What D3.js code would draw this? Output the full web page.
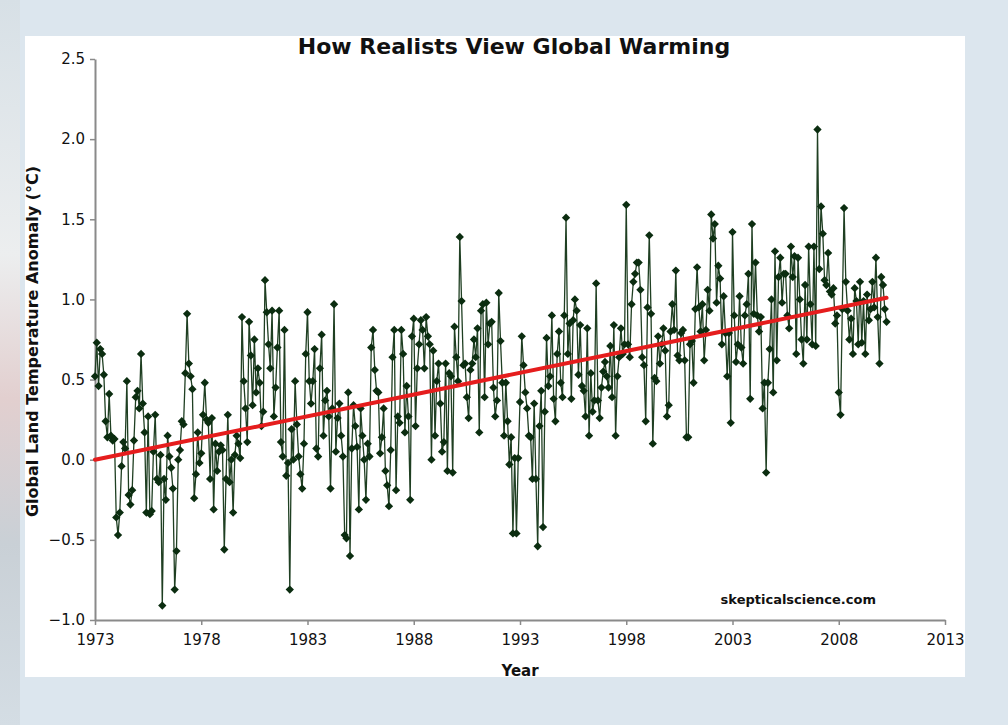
<!DOCTYPE html>
<html>
<head>
<meta charset="utf-8">
<script src="https://cdn.jsdelivr.net/npm/d3@7"></script>
<style>
  html, body { margin: 0; padding: 0; background: #dce6ee; }
  #chart { width: 1008px; height: 725px; }
  text { font-family: "DejaVu Sans", Verdana, sans-serif; fill: #111; }
</style>
</head>
<body>
<div id="chart"></div>
<script>
// monthly land temperature anomaly (°C), Jan 1973 onwards
const startYear = 1973;
const anomalyByYear = [
  [0.52, 0.73, 0.46, 0.69, 0.66, 0.53, 0.24, 0.14, 0.41, 0.15, 0.12, 0.13],
  [-0.36, -0.47, -0.33, -0.04, 0.11, 0.07, 0.49, -0.22, -0.28, -0.19, 0.12, 0.39],
  [0.43, 0.32, 0.66, 0.35, 0.17, -0.33, 0.27, -0.34, -0.32, 0.05, 0.28, -0.12],
  [-0.14, 0.03, -0.91, -0.12, -0.25, 0.15, 0.02, -0.05, -0.18, -0.81, -0.57, 0.0],
  [0.06, 0.24, 0.22, 0.54, 0.91, 0.60, 0.52, 0.44, -0.24, -0.09, 0.17, -0.02],
  [0.04, 0.28, 0.48, 0.25, 0.23, -0.12, 0.26, -0.31, 0.10, -0.07, 0.05, 0.09],
  [0.06, -0.56, -0.12, 0.28, -0.14, 0.0, -0.33, 0.03, 0.15, 0.10, 0.01, 0.89],
  [0.49, 0.32, 0.11, 0.86, 0.65, 0.34, 0.75, 0.42, 0.57, 0.48, 0.21, 0.30],
  [1.12, 0.92, 0.72, 0.57, 0.93, 0.27, 0.45, 0.70, 0.93, 0.11, 0.02, 0.81],
  [-0.10, -0.02, -0.81, 0.19, 0.0, 0.49, 0.22, 0.02, -0.09, -0.18, 0.10, 0.66],
  [0.92, 0.49, 0.35, 0.49, 0.69, 0.07, 0.02, 0.57, 0.78, 0.15, 0.37, 0.43],
  [0.27, -0.18, 0.32, 0.97, 0.05, 0.26, 0.35, 0.15, 0.02, -0.47, -0.49, 0.42],
  [-0.60, 0.07, 0.34, 0.21, 0.08, -0.31, 0.32, 0.15, 0.0, -0.25, 0.10, 0.02],
  [0.70, 0.81, 0.56, 0.43, 0.42, 0.04, 0.14, 0.32, -0.07, -0.16, -0.29, 0.06],
  [0.64, 0.81, -0.19, 0.27, 0.23, 0.81, 0.66, 0.17, 0.46, 0.27, -0.25, 0.77],
  [0.88, 0.21, 0.57, 0.72, 0.87, 0.81, 0.57, 0.89, 0.77, 0.72, 0.0, 0.68],
  [0.15, 0.49, 0.60, 0.35, 0.05, 0.11, 0.60, -0.07, 0.54, 0.52, -0.08, 0.83],
  [0.64, 0.49, 1.39, 0.99, 0.59, 0.60, 0.39, 0.26, 0.56, 0.60, 0.75, 0.64],
  [0.82, 0.17, 0.93, 0.97, 0.39, 0.98, 0.72, 0.85, 0.86, 0.45, 0.27, 0.37],
  [1.04, 0.74, 0.48, 0.15, 0.48, 0.24, -0.03, 0.14, -0.46, 0.01, -0.46, 0.01],
  [0.36, 0.77, 0.59, 0.42, 0.32, 0.15, 0.14, -0.12, 0.35, -0.12, -0.54, 0.21],
  [0.43, -0.42, 0.30, 0.76, 0.46, 0.52, 0.90, 0.38, 0.24, 0.66, 0.80, 0.48],
  [0.39, 0.90, 1.51, 0.66, 0.85, 0.38, 0.87, 1.00, 0.93, 0.53, 0.84, 0.46],
  [0.43, 0.27, 0.82, 0.15, 0.54, 0.30, 0.37, 1.10, 0.37, 0.26, 0.45, 0.55],
  [0.61, 0.52, 0.45, 0.71, 0.39, 0.84, 0.15, 0.52, 0.64, 0.82, 0.66, 0.72],
  [1.59, 0.72, 0.64, 0.97, 1.11, 1.16, 1.23, 1.23, 1.06, 0.64, 0.59, 0.24],
  [0.95, 1.40, 0.91, 0.10, 0.51, 0.49, 0.77, 0.60, 0.72, 0.82, 0.68, 0.27],
  [0.34, 0.80, 0.97, 0.81, 1.18, 0.65, 0.62, 0.79, 0.81, 0.62, 0.14, 0.14],
  [0.72, 0.74, 0.48, 0.94, 1.20, 0.95, 0.80, 0.97, 0.62, 0.81, 1.06, 0.93],
  [1.53, 1.38, 1.47, 0.98, 1.21, 1.13, 0.72, 1.02, 0.79, 0.52, 0.79, 0.23],
  [1.42, 0.90, 0.61, 0.72, 1.02, 0.70, 0.60, 0.90, 0.97, 1.16, 0.38, 1.47],
  [0.91, 1.23, 0.90, 0.80, 0.89, 0.32, 0.48, -0.08, 0.48, 0.69, 1.00, 0.42],
  [1.30, 0.62, 1.14, 1.26, 0.98, 1.16, 1.16, 0.90, 0.82, 1.33, 1.14, 1.27],
  [0.66, 1.26, 1.00, 0.75, 0.60, 1.09, 0.75, 1.33, 0.97, 0.72, 1.33, 0.71],
  [2.06, 1.19, 1.58, 1.41, 1.12, 1.09, 1.29, 1.05, 1.03, 1.07, 0.85, 0.90],
  [0.42, 0.28, 0.94, 1.57, 1.11, 0.93, 0.75, 0.88, 0.66, 1.07, 0.99, 0.72],
  [1.11, 0.73, 0.99, 0.66, 1.03, 0.87, 0.94, 1.11, 0.95, 1.26, 0.89, 0.60],
  [1.14, 1.09, 0.94, 0.86],
];

// linear trend as drawn (start and end of the red line)
const trendYears = [1973, 2010.25];
const trendValues = [0.0, 1.01];

const xTicks = [1973, 1978, 1983, 1988, 1993, 1998, 2003, 2008, 2013];
const yTicks = [-1.0, -0.5, 0.0, 0.5, 1.0, 1.5, 2.0, 2.5];

const title = "How Realists View Global Warming";
const xLabel = "Year";
const yLabel = "Global Land Temperature Anomaly (°C)";
const credit = "skepticalscience.com";

const data = anomalyByYear.flatMap((row, i) =>
  row.map((value, m) => ({ year: startYear + i + m / 12, value }))
);

const width = 1008;
const height = 725;
const margin = { top: 59, right: 63, bottom: 105, left: 95 };

const svg = d3
  .select("#chart")
  .append("svg")
  .attr("width", width)
  .attr("height", height);

// photo edge on the far left of the slide
const grad = svg
  .append("defs")
  .append("linearGradient")
  .attr("id", "edge")
  .attr("x1", 0)
  .attr("x2", 0)
  .attr("y1", 0)
  .attr("y2", 1);
grad.append("stop").attr("offset", "0%").attr("stop-color", "#d7e0e6");
grad.append("stop").attr("offset", "35%").attr("stop-color", "#eceeef");
grad.append("stop").attr("offset", "55%").attr("stop-color", "#e2cfcf");
grad.append("stop").attr("offset", "75%").attr("stop-color", "#c9d0d6");
grad.append("stop").attr("offset", "100%").attr("stop-color", "#d4dde4");
svg.append("rect").attr("x", 0).attr("y", 0).attr("width", 20).attr("height", height).attr("fill", "url(#edge)");

// white chart panel
svg
  .append("rect")
  .attr("x", 25)
  .attr("y", 36)
  .attr("width", 940)
  .attr("height", 641)
  .attr("fill", "#fff");

const x = d3
  .scaleLinear()
  .domain([1973, 2013])
  .range([margin.left, width - margin.right]);

const y = d3
  .scaleLinear()
  .domain([-1.0, 2.5])
  .range([height - margin.bottom, margin.top]);

// axes
const xAxis = svg
  .append("g")
  .attr("transform", `translate(0,${y(-1.0)})`)
  .call(
    d3.axisBottom(x).tickValues(xTicks).tickFormat(d3.format("d")).tickSize(5).tickSizeOuter(0)
  );

const yAxis = svg
  .append("g")
  .attr("transform", `translate(${x(1973)},0)`)
  .call(
    d3.axisLeft(y).tickValues(yTicks).tickFormat(d3.format(".1f")).tickSize(5).tickSizeOuter(0)
  );

[xAxis, yAxis].forEach((g) => {
  g.select(".domain").attr("stroke", "#8a8a8a").attr("stroke-width", 2);
  g.selectAll(".tick line").attr("stroke", "#8a8a8a").attr("stroke-width", 1.5);
  g.selectAll(".tick text")
    .attr("fill", "#111")
    .style("font-size", "15px")
    .style("font-family", '"DejaVu Sans", Verdana, sans-serif');
});
xAxis.selectAll(".tick text").attr("dy", "1.15em");
yAxis.selectAll(".tick text").attr("dx", "-2px");

// series line and markers
svg
  .append("path")
  .datum(data)
  .attr("fill", "none")
  .attr("stroke", "#1f3f22")
  .attr("stroke-width", 1.3)
  .attr(
    "d",
    d3
      .line()
      .x((d) => x(d.year))
      .y((d) => y(d.value))
  );

svg
  .append("g")
  .selectAll("path")
  .data(data)
  .join("path")
  .attr("d", d3.symbol(d3.symbolDiamond2, 44))
  .attr("transform", (d) => `translate(${x(d.year)},${y(d.value)})`)
  .attr("fill", "#0b2d10");

// trend line
svg
  .append("line")
  .attr("x1", x(trendYears[0]))
  .attr("y1", y(trendValues[0]))
  .attr("x2", x(trendYears[1]))
  .attr("y2", y(trendValues[1]))
  .attr("stroke", "#e51d1d")
  .attr("stroke-width", 4)
  .attr("stroke-linecap", "round");

// labels
svg
  .append("text")
  .attr("x", 514)
  .attr("y", 54)
  .attr("text-anchor", "middle")
  .style("font-size", "22px")
  .style("font-weight", "bold")
  .text(title);

svg
  .append("text")
  .attr("x", x(1993))
  .attr("y", 676)
  .attr("text-anchor", "middle")
  .style("font-size", "15px")
  .style("font-weight", "bold")
  .text(xLabel);

svg
  .append("text")
  .attr("transform", `translate(38,${(y(2.5) + y(-1.0)) / 2 + 2}) rotate(-90)`)
  .attr("text-anchor", "middle")
  .style("font-size", "16px")
  .style("font-weight", "bold")
  .text(yLabel);

svg
  .append("text")
  .attr("x", 876)
  .attr("y", 604)
  .attr("text-anchor", "end")
  .style("font-size", "13px")
  .style("font-weight", "bold")
  .text(credit);
</script>
</body>
</html>
